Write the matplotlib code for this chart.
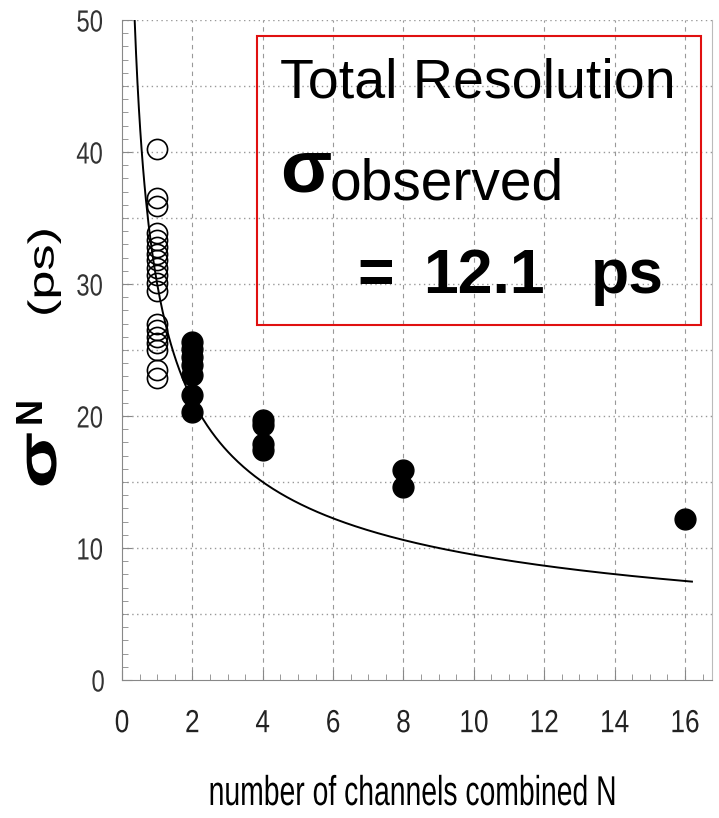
import numpy as np
import matplotlib
matplotlib.use("Agg")
import matplotlib.pyplot as plt
from matplotlib.patches import Rectangle
from matplotlib.patheffects import AbstractPathEffect
from matplotlib.transforms import Affine2D
from matplotlib.ticker import MultipleLocator

# measured resolution per N (ps)
n_single = [1] * 19
sig_single = [40.2, 36.5, 35.9, 33.9, 33.3, 32.8, 32.3, 31.8, 31.2, 30.7,
              30.1, 29.5, 27.0, 26.5, 26.0, 25.5, 25.0, 23.5, 22.9]
n_comb = [2, 2, 2, 2, 2, 2, 2, 4, 4, 4, 4, 8, 8, 16]
sig_comb = [25.6, 25.1, 24.5, 23.9, 23.1, 21.6, 20.3,
            19.7, 19.3, 17.9, 17.4, 15.9, 14.6, 12.2]

# 1/sqrt(N) reference curve, single channel value
sigma_one = 30.0
n_curve = np.linspace(0.36, 16.2, 400)

W, H = 719, 818


class Squeeze(AbstractPathEffect):
    # scale glyphs along the reading direction around their own centre
    def __init__(self, sx):
        super().__init__()
        self.sx = sx

    def draw_path(self, renderer, gc, tpath, affine, rgbFace=None):
        ext = tpath.get_extents()
        cx = (ext.x0 + ext.x1) / 2
        t = Affine2D().translate(-cx, 0).scale(self.sx, 1).translate(cx, 0) + affine
        renderer.draw_path(gc, tpath, t, rgbFace)


def fx(px):
    return px / W


def fy(py):
    return 1 - py / H


fig = plt.figure(figsize=(W / 100, H / 100), dpi=100)
ax = fig.add_axes([122 / W, 138 / H, 590 / W, 660 / H])

ax.plot(n_curve, sigma_one / np.sqrt(n_curve), color="black", lw=1.4, zorder=3)
ax.plot(n_single, sig_single, "o", ms=14.5, mfc="none", mec="black", mew=1.2, zorder=4)
ax.plot(n_comb, sig_comb, "o", ms=15, color="black", zorder=4)

ax.set_xlim(0, 16.77)
ax.set_ylim(0, 50)
ax.xaxis.set_major_locator(MultipleLocator(2))
ax.xaxis.set_minor_locator(MultipleLocator(0.5))
ax.yaxis.set_major_locator(MultipleLocator(10))
ax.yaxis.set_minor_locator(MultipleLocator(1))

for v in range(2, 17, 2):
    ax.axvline(v, color="#999999", lw=0.8, ls=(0, (4, 4)), zorder=1)
for v in range(5, 51, 5):
    ax.axhline(v, color="#999999", lw=1.0, ls=(0, (1, 2.5)), zorder=1)

ax.tick_params(which="both", direction="in", color="#888888", top=False, right=False)
ax.tick_params(which="major", length=7, width=0.8)
ax.tick_params(which="minor", length=4, width=0.6)
ax.tick_params(axis="y", labelsize=22, labelcolor="#333333", pad=11)
ax.tick_params(axis="x", labelsize=23, labelcolor="#222222", pad=21)
for lab in ax.get_yticklabels():
    lab.set_family("Liberation Sans")
    lab.set_path_effects([Squeeze(0.78)])
for lab in ax.get_xticklabels():
    lab.set_family("Liberation Sans")
    lab.set_path_effects([Squeeze(0.82)])

ax.spines["top"].set_visible(False)
ax.spines["left"].set_color("#888888")
ax.spines["bottom"].set_color("#888888")
ax.spines["right"].set_color("#bbbbbb")

ax.set_xlabel("number of channels combined N", fontsize=30, family="Liberation Sans",
              path_effects=[Squeeze(0.68)])
ax.xaxis.label.set_va("baseline")
ax.xaxis.set_label_coords(0.492, -125 / 660)

# y label pieces
fig.text(fx(42), fy(460), "σ", rotation=90, fontsize=40, fontweight="bold",
         family="Liberation Sans", ha="center", va="center",
         path_effects=[Squeeze(1.5)])
fig.text(fx(31), fy(410), "N", rotation=90, fontsize=26, fontweight="bold",
         family="Liberation Sans", ha="center", va="center")
fig.text(fx(44), fy(272), "(ps)", rotation=90, fontsize=26,
         family="Liberation Sans", ha="center", va="center",
         path_effects=[Squeeze(1.45)])

# result box
fig.patches.append(Rectangle((fx(257), fy(325)), fx(701) - fx(257), fy(36) - fy(325),
                             transform=fig.transFigure, fill=False,
                             edgecolor="#e01010", lw=1.5))
fig.text(fx(280), fy(98), "Total Resolution", fontsize=40, family="Liberation Sans",
         ha="left", va="baseline")
fig.text(fx(280), fy(192), "σ", fontsize=54, fontweight="bold", family="Liberation Sans",
         ha="left", va="baseline")
fig.text(fx(330), fy(200), "observed", fontsize=41, family="Liberation Sans",
         ha="left", va="baseline")
fig.text(fx(357), fy(293), "=", fontsize=45, fontweight="bold", family="Liberation Sans",
         ha="left", va="baseline")
fig.text(fx(423), fy(293), "12.1", fontsize=45, fontweight="bold", family="Liberation Sans",
         ha="left", va="baseline")
fig.text(fx(591), fy(293), "ps", fontsize=45, fontweight="bold", family="Liberation Sans",
         ha="left", va="baseline")

fig.savefig("out.png", dpi=100)
